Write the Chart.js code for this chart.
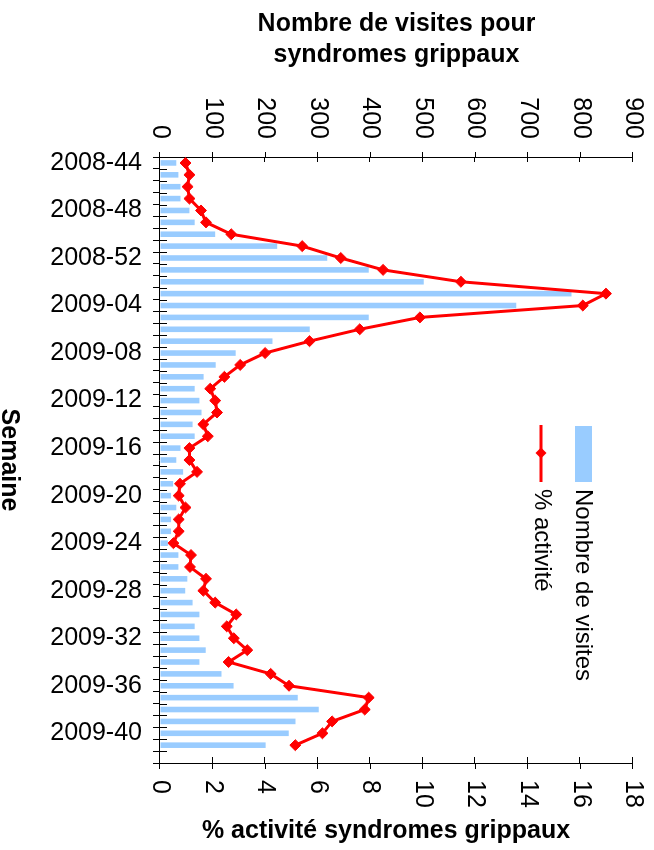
<!DOCTYPE html>
<html>
<head>
<meta charset="utf-8">
<script src="https://cdn.jsdelivr.net/npm/chart.js@4"></script>
<style>
  html, body { margin: 0; padding: 0; background: #fff; overflow: hidden; }
  #wrap {
    position: absolute; left: 0; top: 0;
    width: 850px; height: 654px;
    transform-origin: 0 0;
    transform: translate(654px, 0) rotate(90deg);
  }
</style>
</head>
<body>
<div id="wrap"><canvas id="grippe" width="850" height="654"></canvas></div>
<script>
// chart is built upright, then the whole canvas is turned a quarter clockwise

const weeks = [
  '2008-44', '2008-45', '2008-46', '2008-47', '2008-48', '2008-49', '2008-50', '2008-51', '2008-52',
  '2009-01', '2009-02', '2009-03', '2009-04', '2009-05', '2009-06', '2009-07', '2009-08', '2009-09',
  '2009-10', '2009-11', '2009-12', '2009-13', '2009-14', '2009-15', '2009-16', '2009-17', '2009-18',
  '2009-19', '2009-20', '2009-21', '2009-22', '2009-23', '2009-24', '2009-25', '2009-26', '2009-27',
  '2009-28', '2009-29', '2009-30', '2009-31', '2009-32', '2009-33', '2009-34', '2009-35', '2009-36',
  '2009-37', '2009-38', '2009-39', '2009-40', '2009-41', '2009-42'
];

const visits = [
  31, 35, 39, 39, 56, 66, 105, 223, 318, 397, 502, 783, 678, 397, 285, 214, 144, 106,
  83, 66, 75, 79, 62, 66, 39, 31, 44, 25, 21, 31, 21, 21, 15, 35, 35, 52,
  48, 62, 75, 66, 75, 87, 75, 117, 140, 262, 302, 258, 245, 201, null
];

const activity = [
  0.97, 1.12, 1.05, 1.12, 1.56, 1.75, 2.71, 5.41, 6.88, 8.49, 11.45, 16.97, 16.09, 9.89, 7.6, 5.69, 4.0, 3.05,
  2.45, 1.91, 2.1, 2.17, 1.65, 1.82, 1.12, 1.12, 1.41, 0.76, 0.71, 0.97, 0.71, 0.71, 0.51, 1.18, 1.14, 1.75,
  1.65, 2.1, 2.9, 2.54, 2.81, 3.32, 2.61, 4.21, 4.91, 7.94, 7.79, 6.55, 6.18, 5.15, null
];

const visitTicks = { min: 0, max: 900, step: 100 };
const activityTicks = { min: 0, max: 18, step: 2 };

const BLUE = '#99ccff';
const RED = '#ff0000';
const FONT = "'Liberation Sans', Arial, sans-serif";

Chart.defaults.font.family = FONT;
Chart.defaults.color = '#000';

// inner half of the crossing tick marks
const crossTicks = {
  id: 'crossTicks',
  afterDraw(chart) {
    const ctx = chart.ctx;
    const { x, y, y1 } = chart.scales;
    ctx.save();
    ctx.strokeStyle = '#000';
    ctx.lineWidth = 1;
    ctx.beginPath();
    const n = x.getLabels().length;
    const w = x.width / n;
    for (let i = 0; i <= n; i++) {
      const px = Math.round(x.left + i * w) + 0.5;
      ctx.moveTo(px, x.top);
      ctx.lineTo(px, x.top - 7);
    }
    y.ticks.forEach((t, i) => {
      const py = Math.round(y.getPixelForTick(i)) + 0.5;
      ctx.moveTo(y.right, py);
      ctx.lineTo(y.right + 5, py);
    });
    y1.ticks.forEach((t, i) => {
      const py = Math.round(y1.getPixelForTick(i)) + 0.5;
      ctx.moveTo(y1.left, py);
      ctx.lineTo(y1.left - 6, py);
    });
    ctx.stroke();
    ctx.restore();
  }
};

// right axis title (would come out upside down) and the legend
const extras = {
  id: 'extras',
  afterDraw(chart) {
    const ctx = chart.ctx;
    ctx.save();
    ctx.fillStyle = '#000';
    ctx.font = 'bold 25px ' + FONT;
    ctx.textAlign = 'center';
    ctx.textBaseline = 'middle';
    ctx.translate(831, 268);
    ctx.rotate(-Math.PI / 2);
    ctx.fillText('% activité syndromes grippaux', 0, 0);
    ctx.restore();

    const bar = chart.data.datasets[1];
    const line = chart.data.datasets[0];
    ctx.save();
    ctx.fillStyle = bar.backgroundColor;
    ctx.fillRect(426, 62, 56, 17);
    ctx.strokeStyle = line.borderColor;
    ctx.lineWidth = 3;
    ctx.beginPath();
    ctx.moveTo(425, 113);
    ctx.lineTo(482, 113);
    ctx.stroke();
    ctx.fillStyle = line.borderColor;
    ctx.beginPath();
    ctx.moveTo(453, 107.5);
    ctx.lineTo(458.5, 113);
    ctx.lineTo(453, 118.5);
    ctx.lineTo(447.5, 113);
    ctx.closePath();
    ctx.fill();
    ctx.fillStyle = '#000';
    ctx.font = '24px ' + FONT;
    ctx.textAlign = 'left';
    ctx.textBaseline = 'middle';
    ctx.fillText(bar.label, 489, 71);
    ctx.fillText(line.label, 489, 112);
    ctx.restore();
  }
};

// keep the plot edges where the axes are fixed, not pushed by label overhang
function noOverhang(s) {
  s.paddingTop = 0;
  s.paddingBottom = 0;
}

new Chart(document.getElementById('grippe'), {
  type: 'bar',
  data: {
    labels: weeks,
    datasets: [
      {
        type: 'line',
        label: '% activité',
        data: activity,
        yAxisID: 'y1',
        borderColor: RED,
        backgroundColor: RED,
        borderWidth: 3,
        pointStyle: 'rectRot',
        pointRadius: 5.5,
        pointHoverRadius: 5.5,
        pointBorderWidth: 1,
        tension: 0,
        order: 0,
      },
      {
        type: 'bar',
        label: 'Nombre de visites',
        data: visits,
        yAxisID: 'y',
        backgroundColor: BLUE,
        borderWidth: 0,
        barPercentage: 0.47,
        categoryPercentage: 1,
        order: 1,
      },
    ],
  },
  options: {
    responsive: false,
    animation: false,
    layout: { padding: { top: 21, left: 0, right: 0, bottom: 0 } },
    plugins: { legend: { display: false }, tooltip: { enabled: false } },
    scales: {
      x: {
        offset: true,
        grid: { drawOnChartArea: false, offset: true, color: '#000', tickLength: 7 },
        border: { color: '#000', width: 1 },
        ticks: {
          autoSkip: false,
          minRotation: 90,
          maxRotation: 90,
          padding: 11,
          color: '#000',
          font: { size: 25 },
          callback(v, i) { return i % 4 === 0 ? this.getLabelForValue(v) : ''; },
        },
        title: {
          display: true,
          text: 'Semaine',
          color: '#000',
          font: { size: 25, weight: 'bold', lineHeight: 0.7 },
          padding: 0,
        },
        afterFit(s) { s.height = 160; },
      },
      y: {
        position: 'left',
        min: visitTicks.min,
        max: visitTicks.max,
        grid: { drawOnChartArea: false, color: '#000', tickLength: 5 },
        border: { color: '#000', width: 1 },
        ticks: { stepSize: visitTicks.step, padding: 13, color: '#000', font: { size: 25 } },
        title: {
          display: true,
          text: ['Nombre de visites pour', 'syndromes grippaux'],
          color: '#000',
          font: { size: 25, weight: 'bold', lineHeight: 1.25 },
          padding: { top: 8.5, bottom: 0 },
        },
        afterFit(s) { s.width = 157; noOverhang(s); },
      },
      y1: {
        position: 'right',
        min: activityTicks.min,
        max: activityTicks.max,
        grid: { drawOnChartArea: false, color: '#000', tickLength: 6 },
        border: { color: '#000', width: 1 },
        ticks: { stepSize: activityTicks.step, padding: 11, color: '#000', font: { size: 25 } },
        afterFit(s) { s.width = 87; noOverhang(s); },
      },
    },
  },
  plugins: [crossTicks, extras],
});
</script>
</body>
</html>
